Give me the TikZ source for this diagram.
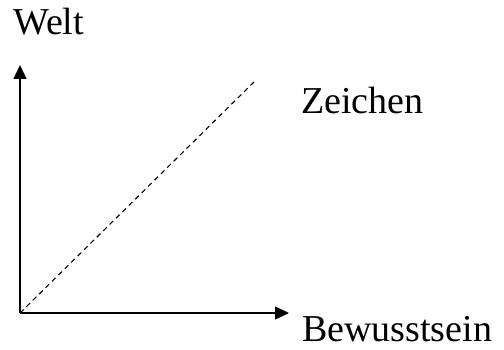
\documentclass[tikz,border=0pt]{standalone}
\usepackage{fontspec}
\setmainfont{Liberation Serif}
\usetikzlibrary{arrows.meta,positioning}

\begin{document}
\begin{tikzpicture}[x=1pt,y=1pt]
\useasboundingbox (0,0) rectangle (504,349);
% axes
\coordinate (O) at (20,36);
\coordinate (wtip) at (20,284);
\coordinate (btip) at (289,36);
\coordinate (ztip) at (254,267);
\draw[line width=1.4pt, -{Triangle[length=14pt,width=13pt]}] (O) -- (wtip);
\draw[line width=1.4pt, -{Triangle[length=14pt,width=13pt]}] (O) -- (btip);
\draw[line width=1.1pt, dash pattern=on 5pt off 4pt] (O) -- (ztip);
% labels
\node[anchor=base west, inner sep=0pt, font=\fontsize{38}{40}\selectfont] (welt) at (13,314) {Welt};
\node[anchor=base west, inner sep=0pt, font=\fontsize{38}{40}\selectfont] (zeichen) at (301,236) {Zeichen};
\node[anchor=base west, inner sep=0pt, font=\fontsize{38}{40}\selectfont] (bewusstsein) at (302,8) {Bewusstsein};
\end{tikzpicture}
\end{document}
